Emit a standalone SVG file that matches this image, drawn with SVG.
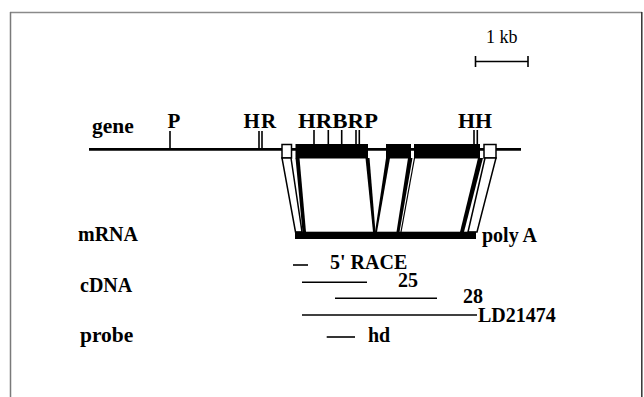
<svg xmlns="http://www.w3.org/2000/svg" width="644" height="397" viewBox="0 0 644 397">
<style>
.lbl{font-family:"Liberation Serif","Times New Roman",serif;font-weight:bold;font-size:20px;fill:#000}
.big{font-size:21.5px}
.site{font-family:"Liberation Serif","Times New Roman",serif;font-weight:bold;font-size:21px;fill:#000}
.reg{font-family:"Liberation Serif","Times New Roman",serif;font-size:18px;fill:#000}
.ln{stroke:#000;fill:none}
.tick{stroke:#000;stroke-width:1.6;fill:none}
.wbox{fill:#fff;stroke:#000;stroke-width:1.5}
.bbox{fill:#000}
</style>
<rect x="0" y="0" width="644" height="397" fill="#fff"/>
<g id="frame">
<line x1="10" y1="12.5" x2="642" y2="12.5" stroke="#8a8a8a" stroke-width="1.5"/>
<line x1="10.5" y1="12" x2="10.5" y2="397" stroke="#7a7a7a" stroke-width="1.5"/>
<line x1="641.8" y1="12" x2="641.8" y2="397" stroke="#333" stroke-width="1.5"/>
</g>
<g id="scale-bar">
<line class="ln" x1="475" y1="61.5" x2="528" y2="61.5" stroke-width="1.6"/>
<line class="ln" x1="475.5" y1="56" x2="475.5" y2="67" stroke-width="1.6"/>
<line class="ln" x1="528" y1="56" x2="528" y2="67" stroke-width="1.6"/>
<text class="reg" x="486" y="43">1 kb</text>
</g>
<g id="labels">
<text class="lbl big" x="92" y="133">gene</text>
<text class="lbl" x="78" y="241">mRNA</text>
<text class="lbl" x="80" y="292">cDNA</text>
<text class="lbl big" x="80" y="342">probe</text>
</g>
<g id="gene">
<line class="ln" x1="89" y1="149.3" x2="521" y2="149.3" stroke-width="2.7"/>
<g id="sites">
<line class="tick" x1="170" y1="131" x2="170" y2="149"/>
<line class="tick" x1="259" y1="131" x2="259" y2="149"/>
<line class="tick" x1="262" y1="131" x2="262" y2="149"/>
<line class="tick" x1="314" y1="130" x2="314" y2="145"/>
<line class="tick" x1="328.3" y1="130" x2="328.3" y2="145"/>
<line class="tick" x1="341.7" y1="130" x2="341.7" y2="145"/>
<line class="tick" x1="356" y1="130" x2="356" y2="145"/>
<line class="tick" x1="359.3" y1="130" x2="359.3" y2="145"/>
<line class="tick" x1="474" y1="130" x2="474" y2="145"/>
<line class="tick" x1="477.3" y1="130" x2="477.3" y2="145"/>
<text class="site" x="167.5" y="128">P</text>
<text class="site" x="243.5" y="128">H</text>
<text class="site" x="261" y="128">R</text>
<text class="site" x="298" y="128" textLength="80" lengthAdjust="spacingAndGlyphs">HRBRP</text>
<text class="site" x="458" y="128" textLength="34" lengthAdjust="spacingAndGlyphs">HH</text>
</g>
<g id="exons">
<rect class="wbox" x="282" y="144.5" width="9.5" height="13.5"/>
<rect class="bbox" x="295.5" y="144" width="72.5" height="14.5"/>
<rect class="bbox" x="386" y="144" width="25" height="14.5"/>
<rect class="bbox" x="414" y="144" width="66" height="14.5"/>
<rect class="wbox" x="484" y="144.5" width="12" height="13.5"/>
</g>
</g>
<g id="connectors">
<polygon class="wbox" points="282,158 291,158 302,232 295.5,232"/>
<polygon class="bbox" points="295.5,158 299.5,158 306,232 302.5,232"/>
<polygon class="bbox" points="365.5,158 369.5,158 375.5,232 373,232"/>
<polygon class="bbox" points="386,158 390,158 377,232 375,232"/>
<polygon class="bbox" points="408,158 412.5,158 399.5,232 396.5,232"/>
<line class="ln" x1="414.5" y1="158" x2="401" y2="232" stroke-width="1.2"/>
<polygon class="bbox" points="478,158 483,158 464,232 460,232"/>
<polygon class="wbox" points="485,158 496,158 477,232 468,232"/>
</g>
<g id="mrna">
<rect class="bbox" x="295" y="231.7" width="181" height="7.3"/>
<text class="lbl" x="482" y="242">poly A</text>
</g>
<g id="cdna">
<line class="ln" x1="293" y1="265" x2="308" y2="265" stroke-width="1.6"/>
<text class="lbl" x="330" y="268.5">5' RACE</text>
<line class="ln" x1="302" y1="282.3" x2="367" y2="282.3" stroke-width="1.6"/>
<text class="lbl" x="398" y="287">25</text>
<line class="ln" x1="335" y1="298.3" x2="437" y2="298.3" stroke-width="1.6"/>
<text class="lbl" x="463" y="303">28</text>
<line class="ln" x1="302" y1="315" x2="477" y2="315" stroke-width="1.6"/>
<text class="lbl" x="478" y="322">LD21474</text>
</g>
<g id="probe">
<line class="ln" x1="326.7" y1="337" x2="355" y2="337" stroke-width="1.6"/>
<text class="lbl" x="368" y="342">hd</text>
</g>
</svg>
